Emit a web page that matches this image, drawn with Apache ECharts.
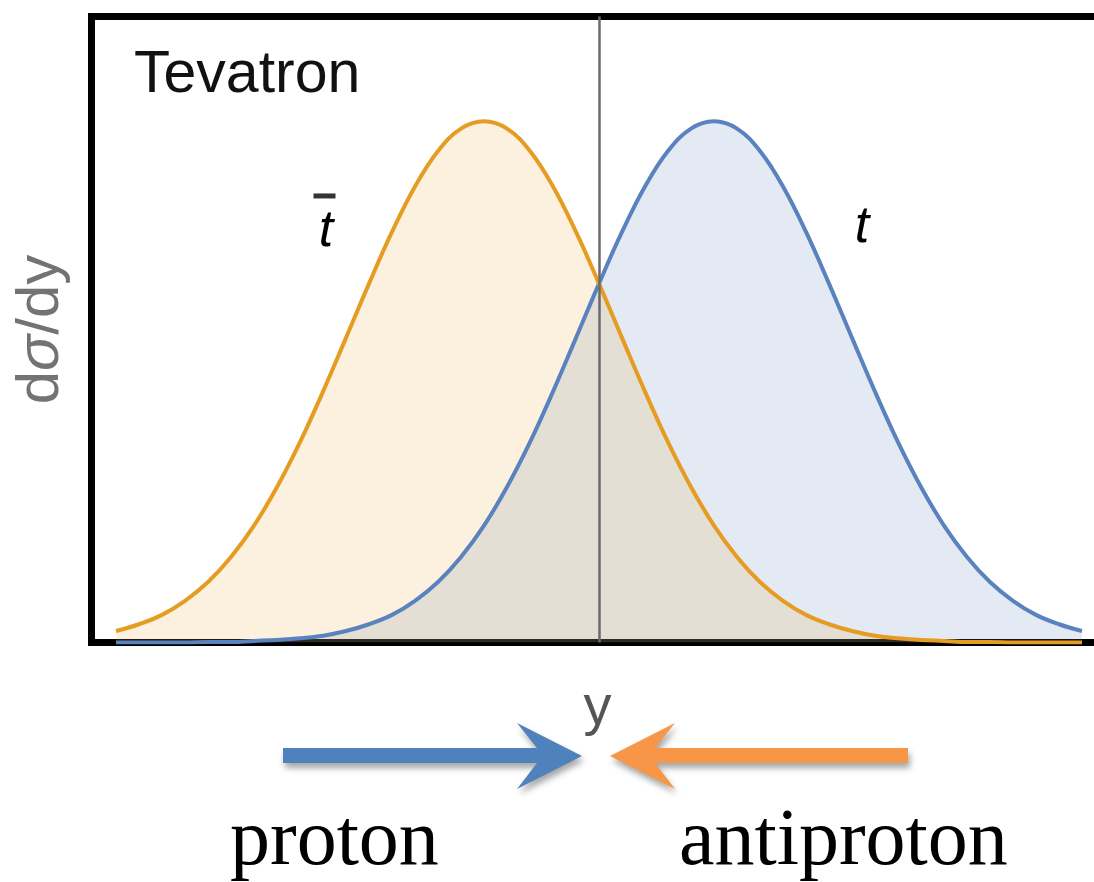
<!DOCTYPE html>
<html lang="en">
<head>
<meta charset="UTF-8">
<title>Tevatron</title>
<script src="https://cdn.jsdelivr.net/npm/echarts@6/dist/echarts.min.js"></script>
<style>
  html, body { margin: 0; padding: 0; background: #fff; }
  #chart { width: 1094px; height: 882px; }
</style>
</head>
<body>
<div id="chart"></div>
<script>
// rapidity y, step 0.23
const rapidity = [-4.83, -4.6, -4.37, -4.14, -3.91, -3.68, -3.45, -3.22, -2.99, -2.76,
  -2.53, -2.3, -2.07, -1.84, -1.61, -1.38, -1.15, -0.92, -0.69, -0.46,
  -0.23, 0, 0.23, 0.46, 0.69, 0.92, 1.15, 1.38, 1.61, 1.84,
  2.07, 2.3, 2.53, 2.76, 2.99, 3.22, 3.45, 3.68, 3.91, 4.14,
  4.37, 4.6, 4.83]

// dsigma/dy of top quark (blue)
const topQuark = [0, 0, 0, 0, 0.001, 0.001, 0.003, 0.005, 0.008, 0.013,
  0.022, 0.035, 0.053, 0.080, 0.116, 0.164, 0.224, 0.298, 0.384, 0.481,
  0.584, 0.688, 0.787, 0.874, 0.942, 0.985, 0.999, 0.985, 0.942, 0.874,
  0.787, 0.688, 0.584, 0.481, 0.384, 0.298, 0.224, 0.164, 0.116, 0.080,
  0.053, 0.035, 0.022]

// dsigma/dy of anti-top (orange)
const antiTop = [0.022, 0.035, 0.053, 0.080, 0.116, 0.164, 0.224, 0.298, 0.384, 0.481,
  0.584, 0.688, 0.787, 0.874, 0.942, 0.985, 0.999, 0.985, 0.942, 0.874,
  0.787, 0.688, 0.584, 0.481, 0.384, 0.298, 0.224, 0.164, 0.116, 0.080,
  0.053, 0.035, 0.022, 0.013, 0.008, 0.005, 0.003, 0.001, 0.001, 0,
  0, 0, 0]

// label positions [y, dsigma/dy]
const topLabelPos = [2.63, 0.795]
const antiTopLabelPos = [-2.73, 0.787]
const antiTopBarPos = [-2.745, 0.856]

const blue = '#5a82be'
const orange = '#e59c22'

const topData = rapidity.map((x, i) => [x, topQuark[i]])
const antiTopData = rapidity.map((x, i) => [x, antiTop[i]])

const chart = echarts.init(document.getElementById('chart'))

const option = {
  animation: false,
  backgroundColor: '#fff',
  title: {
    text: 'Tevatron',
    left: 129,
    top: 41,
    textStyle: { fontFamily: 'Liberation Sans', fontSize: 59, fontWeight: 'normal', color: '#111' }
  },
  grid: {
    left: 91.5,
    top: 16.5,
    width: 1020,
    height: 626,
    show: true,
    borderColor: '#000',
    borderWidth: 7,
    containLabel: false,
    outerBoundsMode: 'none'
  },
  xAxis: {
    type: 'value',
    min: -5.075,
    max: 5.125,
    name: 'y',
    nameLocation: 'middle',
    nameGap: 38,
    nameTextStyle: { fontFamily: 'Liberation Sans', fontSize: 56, color: '#555', padding: [0, 8, 0, 0] },
    axisLine: { show: false },
    axisTick: { show: false },
    axisLabel: { show: false },
    splitLine: { show: false }
  },
  yAxis: {
    type: 'value',
    min: 0,
    max: 1.2,
    name: '{n|d}{s|σ}{n|/dy}',
    nameLocation: 'middle',
    nameRotate: 90,
    nameGap: 20,
    nameTextStyle: {
      rich: {
        n: { fontFamily: 'Liberation Sans', fontSize: 60, color: '#737373' },
        s: { fontFamily: 'Liberation Sans', fontSize: 60, fontStyle: 'italic', color: '#737373' }
      }
    },
    axisLine: { show: false },
    axisTick: { show: false },
    axisLabel: { show: false },
    splitLine: { show: false }
  },
  series: [
    {
      name: 't area',
      type: 'line',
      data: topData,
      smooth: 0.4,
      showSymbol: false,
      lineStyle: { width: 0 },
      areaStyle: { color: 'rgba(90,130,190,0.24)' },
      z: 1
    },
    {
      name: 'tbar area',
      type: 'line',
      data: antiTopData,
      smooth: 0.4,
      showSymbol: false,
      lineStyle: { width: 0 },
      areaStyle: { color: 'rgba(236,162,40,0.22)' },
      z: 1
    },
    {
      name: 't',
      type: 'line',
      data: topData,
      smooth: 0.4,
      showSymbol: false,
      lineStyle: { color: blue, width: 4 },
      z: 2,
      markPoint: {
        symbol: 'circle',
        symbolSize: 0,
        label: {
          show: true,
          formatter: 't',
          fontFamily: 'Liberation Sans',
          fontSize: 52,
          fontStyle: 'italic',
          color: '#000'
        },
        data: [{ coord: topLabelPos }]
      }
    },
    {
      name: 'tbar',
      type: 'line',
      data: antiTopData,
      smooth: 0.4,
      showSymbol: false,
      lineStyle: { color: orange, width: 4 },
      z: 2,
      markPoint: {
        silent: true,
        data: [
          {
            coord: antiTopLabelPos,
            symbol: 'circle',
            symbolSize: 0,
            label: {
              show: true,
              formatter: 't',
              fontFamily: 'Liberation Sans',
              fontSize: 52,
              fontStyle: 'italic',
              color: '#000'
            }
          },
          {
            coord: antiTopBarPos,
            symbol: 'rect',
            symbolSize: [22, 5],
            itemStyle: { color: '#333' },
            label: { show: false }
          }
        ]
      },
      markLine: {
        silent: true,
        symbol: 'none',
        lineStyle: { color: '#6a6a6a', width: 2.5, type: 'solid' },
        label: { show: false },
        data: [{ xAxis: 0 }],
        z: 5
      }
    }
  ],
  graphic: [
    {
      type: 'polygon',
      shape: { points: [[283, 748], [537, 748], [517, 723], [582, 756], [517, 789], [537, 763], [283, 763]] },
      style: { fill: '#4f81bd', shadowBlur: 6, shadowOffsetX: 2, shadowOffsetY: 5, shadowColor: 'rgba(0,0,0,0.35)' }
    },
    {
      type: 'polygon',
      shape: { points: [[908, 748], [655, 748], [675, 723], [610, 756], [675, 789], [655, 763], [908, 763]] },
      style: { fill: '#f79646', shadowBlur: 6, shadowOffsetX: 2, shadowOffsetY: 5, shadowColor: 'rgba(0,0,0,0.35)' }
    },
    {
      type: 'text',
      x: 230,
      y: 843,
      style: { text: 'proton', font: '80px "Liberation Serif"', fill: '#000', verticalAlign: 'middle', align: 'left' }
    },
    {
      type: 'text',
      x: 679,
      y: 843,
      style: { text: 'antiproton', font: '80px "Liberation Serif"', fill: '#000', verticalAlign: 'middle', align: 'left' }
    }
  ]
}

chart.setOption(option)
</script>
</body>
</html>
